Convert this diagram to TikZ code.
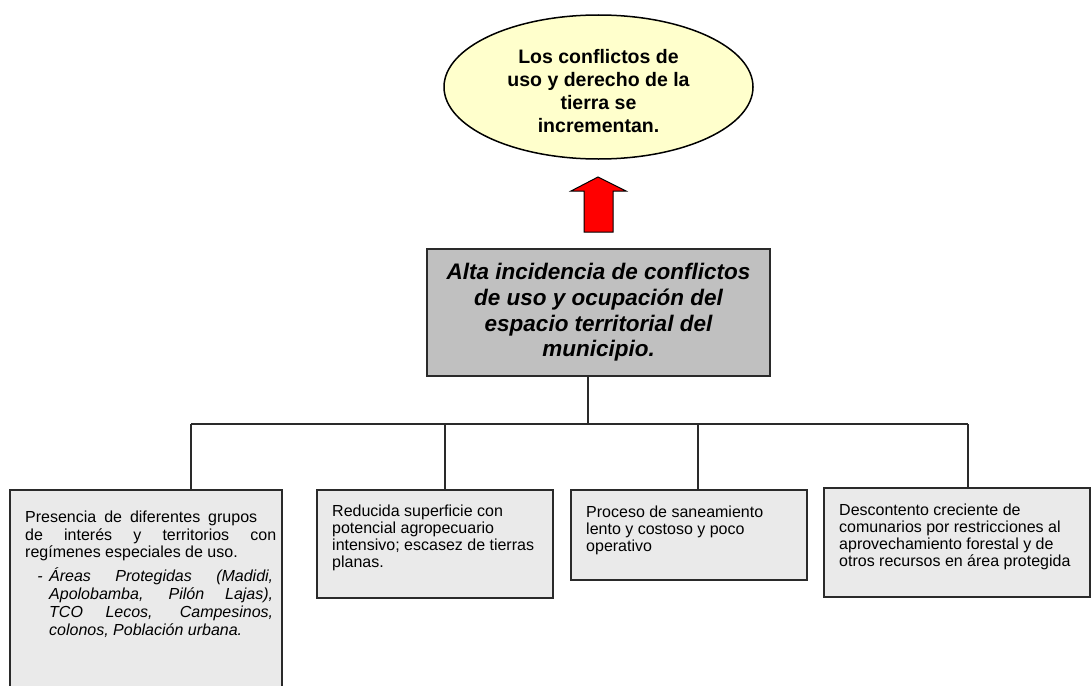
\documentclass[tikz,border=0pt]{standalone}
\usepackage{fontspec}
\setmainfont{Liberation Sans}
\usetikzlibrary{shapes.geometric}
\definecolor{goalfill}{HTML}{FFFFCC}
\definecolor{mainfill}{HTML}{C0C0C0}
\definecolor{boxfill}{HTML}{EAEAEA}
\definecolor{linec}{HTML}{2A2A2A}
\begin{document}
\begin{tikzpicture}[x=1pt,y=-1pt,
  causebox/.style={draw=linec, line width=1.3pt, fill=boxfill, rectangle, inner sep=0pt},
  bodytext/.style={anchor=base west, inner sep=0pt, text=black},
  link/.style={draw=linec, line width=1.3pt}]
\useasboundingbox (0,0) rectangle (1091,685);
% goal ellipse
\node[ellipse, draw=black, line width=1.5pt, fill=goalfill, minimum width=309pt, minimum height=144pt, inner sep=0pt] (goal) at (598.5,87)
  {\begin{minipage}{190pt}\centering\fontsize{19.5}{23.2}\selectfont\bfseries\vspace*{8pt}Los conflictos de\\ uso y derecho de la\\ tierra se\\ incrementan.\end{minipage}};
% block arrow
\coordinate (tip) at (598,177);
\draw[fill=red, draw=black, line width=1pt] (tip) -- (626,191) -- (613,191) -- (613,232) -- (584,232) -- (584,191) -- (571,191) -- cycle;
% main problem
\node[rectangle, draw=linec, line width=2pt, fill=mainfill, minimum width=343pt, minimum height=127pt, inner sep=0pt] (main) at (598.5,312.5)
  {\parbox{335pt}{\centering\fontsize{22.5}{25.7}\selectfont\bfseries\itshape Alta incidencia de conflictos\\ de uso y ocupación del\\ espacio territorial del\\ municipio.}};
% cause boxes
\node[causebox, minimum width=272pt, minimum height=230pt] (b1) at (146,605) {};
\node[causebox, minimum width=236pt, minimum height=108pt] (b2) at (435,544) {};
\node[causebox, minimum width=236pt, minimum height=90pt] (b3) at (689,535) {};
\node[causebox, minimum width=266pt, minimum height=109pt] (b4) at (957,542.5) {};
% connectors
\coordinate (bus) at (588,424);
\coordinate (j1) at (191,424);
\coordinate (j2) at (445,424);
\coordinate (j3) at (698,424);
\coordinate (j4) at (968,424);
\draw[link] (main.south -| bus) -- (bus);
\draw[link] (j1) -- (j4);
\draw[link] (j1) -- (j1 |- b1.north);
\draw[link] (j2) -- (j2 |- b2.north);
\draw[link] (j3) -- (j3 |- b3.north);
\draw[link] (j4) -- (j4 |- b4.north);
% texts
\node[bodytext] (t1) at (25,522.5) {\parbox[t]{251pt}{\fontsize{16}{17.7}\selectfont\tolerance=10000\hyphenpenalty=10000
  \hbox to 232pt{Presencia\hfil\ de\hfil\ diferentes\hfil\ grupos}
  \hbox to 251pt{de\hfil\ interés\hfil\ y\hfil\ territorios\hfil\ con}
  \hbox{regímenes especiales de uso.}
  \vspace{6.3pt}
  \leftskip=24pt\rightskip=3pt\itshape\noindent\llap{-\hspace{6.5pt}}Áreas Protegidas (Madidi,\linebreak Apolobamba, Pilón Lajas),\linebreak TCO Lecos, Campesinos,\linebreak colonos, Población urbana.\par}};
\node[bodytext] (t2) at (332,516) {\parbox[t]{215pt}{\raggedright\fontsize{16}{17.1}\selectfont Reducida superficie con\\ potencial agropecuario\\ intensivo; escasez de tierras\\ planas.}};
\node[bodytext] (t3) at (586,517) {\parbox[t]{215pt}{\raggedright\fontsize{16}{17.3}\selectfont Proceso de saneamiento\\ lento y costoso y poco\\ operativo}};
\node[bodytext] (t4) at (839,515) {\parbox[t]{245pt}{\raggedright\fontsize{16}{17.3}\selectfont Descontento creciente de\\ comunarios por restricciones al\\ aprovechamiento forestal y de\\ otros recursos en área protegida}};
\end{tikzpicture}
\end{document}
